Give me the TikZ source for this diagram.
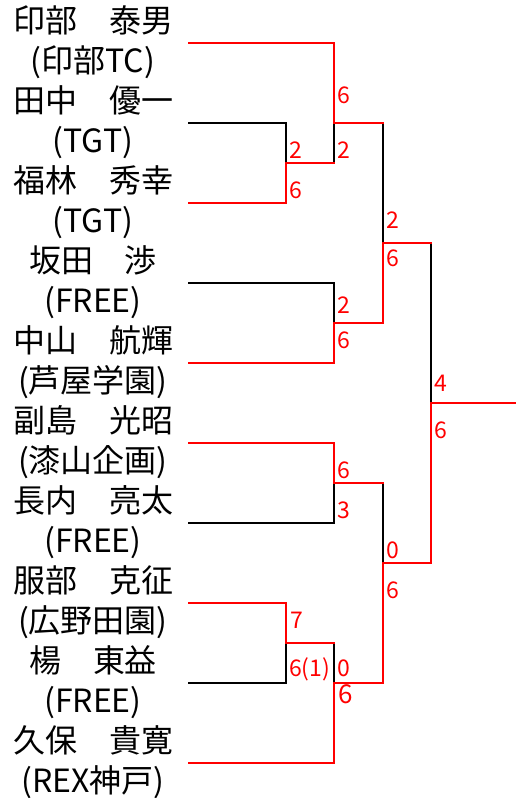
\documentclass[tikz,border=0pt]{standalone}
\usepackage{fontspec}
\setmainfont{Noto Sans CJK JP}
\definecolor{wred}{RGB}{255,0,0}
\begin{document}
\begin{tikzpicture}[x=1pt,y=-1pt,
  bline/.style={line width=2.2pt, line join=miter, line cap=rect},
  win/.style={bline, draw=wred},
  lose/.style={bline, draw=black},
  pname/.style={anchor=base, inner sep=0pt, font=\fontsize{32}{32}\selectfont},
  score/.style={anchor=base west, inner sep=0pt, text=wred, font=\fontsize{23}{23}\selectfont},
  bigscore/.style={score, font=\fontsize{26}{26}\selectfont}]
\useasboundingbox (0,0) rectangle (515,798);
% names
\foreach \t [count=\k from 0] in {印部　泰男,(印部TC),田中　優一,(TGT),福林　秀幸,(TGT),坂田　渉,(FREE),中山　航輝,(芦屋学園),副島　光昭,(漆山企画),長内　亮太,(FREE),服部　克征,(広野田園),楊　東益,(FREE),久保　貴寛,(REX神戸)}
  \node[pname] (n\k) at (93,{32+40*\k}) {\t};
% player line ends
\foreach \y [count=\i] in {43,123,203,283,363,443,523,603,683,763}
  \coordinate (a\i) at (189,\y);
\coordinate (b1) at (334,43);
\coordinate (b2) at (286,123);
\coordinate (b3) at (286,203);
\coordinate (b4) at (334,283);
\coordinate (b5) at (334,363);
\coordinate (b6) at (334,443);
\coordinate (b7) at (334,523);
\coordinate (b8) at (286,603);
\coordinate (b9) at (286,683);
\coordinate (b10) at (334,763);
% junctions
\coordinate (m23) at (286,163);  \coordinate (m23o) at (334,163);
\coordinate (m1) at (334,123);   \coordinate (m1o) at (383,123);
\coordinate (m45) at (334,323);  \coordinate (m45o) at (383,323);
\coordinate (s1) at (383,243);   \coordinate (s1o) at (431,243);
\coordinate (m67) at (334,483);  \coordinate (m67o) at (383,483);
\coordinate (m89) at (286,643);  \coordinate (m89o) at (334,643);
\coordinate (mx) at (334,683);   \coordinate (mxo) at (383,683);
\coordinate (s2) at (383,563);   \coordinate (s2o) at (431,563);
\coordinate (f) at (431,403);    \coordinate (fo) at (515,403);
% losing lines
\draw[lose] (a2) -- (b2) -- (m23);
\draw[lose] (m1) -- (m23o);
\draw[lose] (m1o) -- (s1);
\draw[lose] (a4) -- (b4) -- (m45);
\draw[lose] (s1o) -- (f);
\draw[lose] (a7) -- (b7) -- (m67);
\draw[lose] (m67o) -- (s2);
\draw[lose] (a9) -- (b9) -- (m89);
\draw[lose] (m89o) -- (mx);
% winning lines
\draw[win] (a1) -- (b1) -- (m1) -- (m1o);
\draw[win] (a3) -- (b3) -- (m23) -- (m23o);
\draw[win] (a5) -- (b5) -- (m45) -- (m45o) -- (s1) -- (s1o);
\draw[win] (a6) -- (b6) -- (m67) -- (m67o);
\draw[win] (a8) -- (b8) -- (m89) -- (m89o);
\draw[win] (a10) -- (b10) -- (mx) -- (mxo) -- (s2) -- (s2o) -- (f) -- (fo);
% scores
\node[score] (c1) at (337,103) {6};
\node[score] (c2) at (289,158) {2};
\node[score] (c3) at (337,158) {2};
\node[score] (c4) at (289,198) {6};
\node[score] (c5) at (386,228) {2};
\node[score] (c6) at (386,266) {6};
\node[score] (c7) at (337,313) {2};
\node[score] (c8) at (337,348) {6};
\node[score] (c9) at (434,391) {4};
\node[score] (c10) at (434,438) {6};
\node[score] (c11) at (337,478) {6};
\node[score] (c12) at (337,518) {3};
\node[score] (c13) at (386,558) {0};
\node[score] (c14) at (386,598) {6};
\node[score] (c15) at (290,628) {7};
\node[score] (c16) at (289,676) {6(1)};
\node[score] (c17) at (337,676) {0};
\node[bigscore] (c18) at (338,703) {6};
\end{tikzpicture}
\end{document}
